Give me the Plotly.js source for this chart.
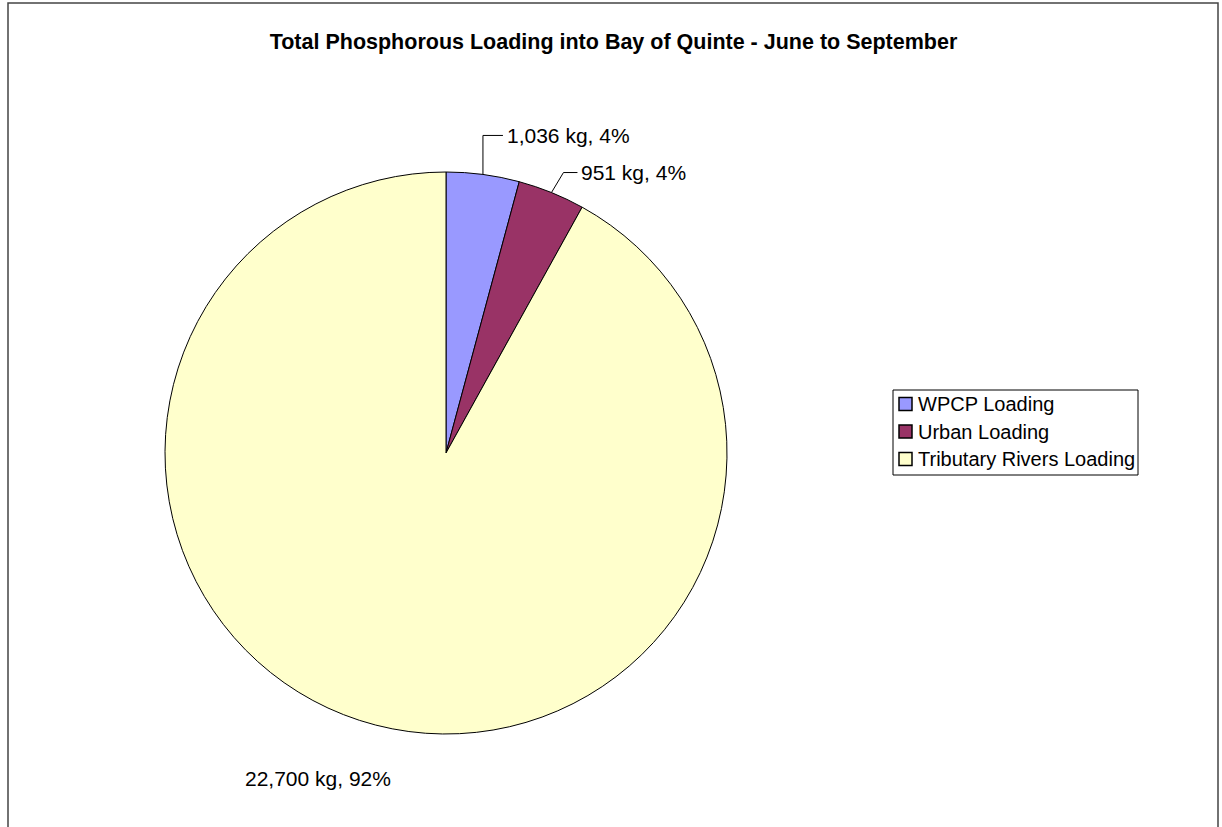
<!DOCTYPE html>
<html>
<head>
<meta charset="utf-8">
<script src="https://cdn.plot.ly/plotly-3.0.1.min.js"></script>
<style>
html,body{margin:0;padding:0;background:#fff;}
#chart{width:1222px;height:827px;}
</style>
</head>
<body>
<div id="chart"></div>
<script>
// ---- Data ----
const categories = ["WPCP Loading", "Urban Loading", "Tributary Rivers Loading"];
const loadingsKg = [1036, 951, 22700];
const sliceColors = ["#9999FF", "#993366", "#FFFFCC"];
const chartTitle = "Total Phosphorous Loading into Bay of Quinte - June to September";

// ---- Layout constants (pixels) ----
const W = 1222, H = 827;
const pieCx = 446, pieCy = 453, pieR = 281;
const labelLayout = [
  {elbow:[0,-39], run:20, text:[2,0], anchor:"left", line:true},
  {elbow:[12,-20], run:14, text:[2,0], anchor:"left", line:true},
  {elbow:[0,0], run:0, text:[-58,53], anchor:"center", line:false}
];
const legendBox = {x0:893, x1:1138, y0:390, y1:475, firstY:404, step:27.5, symX:905.5, sym:13, textX:916};
const FONT = "'Liberation Sans', Arial, sans-serif";

const px = x => x / W;
const py = y => 1 - y / H;

const total = loadingsKg.reduce((a,b)=>a+b,0);
const annotations = [];
const shapes = [];

// chart border (left, top, right)
shapes.push({type:"path", xref:"paper", yref:"paper",
  path:`M ${px(8)},${py(H+5)} L ${px(8)},${py(3)} L ${px(1218)},${py(3)} L ${px(1218)},${py(H+5)}`,
  line:{color:"#444", width:1.5}});

// data labels with leader lines
let cum = 0;
loadingsKg.forEach((v,i)=>{
  const mid = (cum + v/2) / total * 2 * Math.PI;
  cum += v;
  const ex = pieCx + pieR * Math.sin(mid);
  const ey = pieCy - pieR * Math.cos(mid);
  const L = labelLayout[i];
  const label = v.toLocaleString("en-US") + " kg, " + Math.round(v/total*100) + "%";
  let tx, ty;
  if (L.line) {
    const bx = ex + L.elbow[0], by = ey + L.elbow[1];
    const cx = bx + L.run, cy = by;
    shapes.push({type:"path", xref:"paper", yref:"paper",
      path:`M ${px(ex)},${py(ey)} L ${px(bx)},${py(by)} L ${px(cx)},${py(cy)}`,
      line:{color:"#000", width:1}});
    tx = cx + L.text[0]; ty = cy + L.text[1];
  } else {
    tx = ex + L.text[0]; ty = ey + L.text[1];
  }
  annotations.push({xref:"paper", yref:"paper", x:px(tx), y:py(ty),
    xanchor:L.anchor, yanchor:"middle", text:label, showarrow:false,
    font:{family:FONT, size:21, color:"#000"}});
});

// legend (box, colour squares, names)
shapes.push({type:"rect", xref:"paper", yref:"paper",
  x0:px(legendBox.x0), x1:px(legendBox.x1), y0:py(legendBox.y1), y1:py(legendBox.y0),
  fillcolor:"#fff", line:{color:"#000", width:1}, layer:"above"});
categories.forEach((name,i)=>{
  const cy = legendBox.firstY + i*legendBox.step;
  const h = legendBox.sym/2;
  shapes.push({type:"rect", xref:"paper", yref:"paper",
    x0:px(legendBox.symX-h), x1:px(legendBox.symX+h), y0:py(cy+h), y1:py(cy-h),
    fillcolor:sliceColors[i], line:{color:"#000", width:1.5}, layer:"above"});
  annotations.push({xref:"paper", yref:"paper", x:px(legendBox.textX), y:py(cy),
    xanchor:"left", yanchor:"middle", text:name, showarrow:false,
    font:{family:FONT, size:20, color:"#000"}});
});

const trace = {
  type:"pie",
  labels: categories,
  values: loadingsKg,
  sort:false,
  direction:"clockwise",
  rotation:0,
  textinfo:"none",
  marker:{colors:sliceColors, line:{color:"#000", width:1}},
  domain:{x:[px(pieCx-pieR), px(pieCx+pieR)], y:[py(pieCy+pieR), py(pieCy-pieR)]},
  hoverinfo:"label+value+percent",
  showlegend:false
};

const layout = {
  width:W, height:H,
  margin:{l:0,r:0,t:0,b:0},
  paper_bgcolor:"#fff",
  title:{text:"<b>"+chartTitle+"</b>", x:px(613.5), xanchor:"center", y:py(41), yanchor:"middle", yref:"container",
    font:{family:FONT, size:21.5, color:"#000"}},
  showlegend:false,
  shapes: shapes,
  annotations: annotations
};

Plotly.newPlot("chart", [trace], layout, {displayModeBar:false, staticPlot:true});
</script>
</body>
</html>
